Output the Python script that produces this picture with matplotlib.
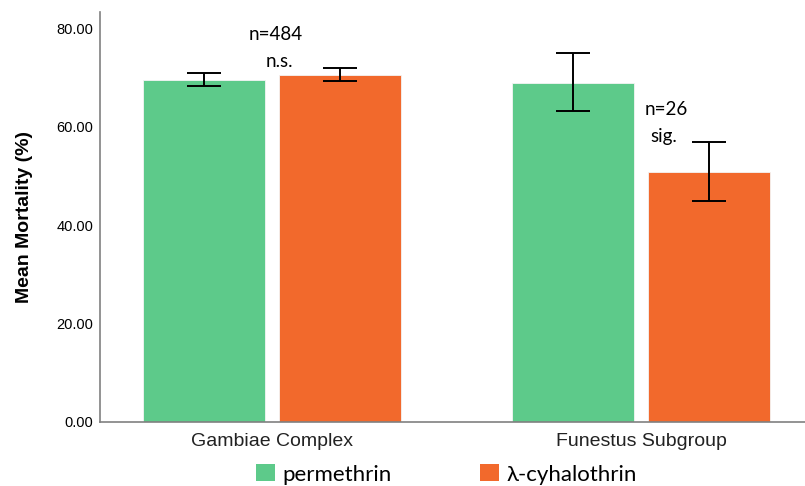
import matplotlib.pyplot as plt
from matplotlib.patches import Patch
import numpy as np

# data
groups = ["Gambiae Complex", "Funestus Subgroup"]
insecticides = ["permethrin", "λ-cyhalothrin"]
perm_mean = [69.5, 68.9]
perm_lo = [68.2, 63.2]
perm_hi = [71.0, 74.9]
lamb_mean = [70.6, 50.7]
lamb_lo = [69.3, 44.8]
lamb_hi = [71.85, 56.8]
yticks = [0, 20, 40, 60, 80]

GREEN = "#5DCA8A"
ORANGE = "#F2692C"
ANNOT_FONT = "Lato"

fig = plt.figure(figsize=(8.05, 4.86), dpi=100)
ax = fig.add_axes([100 / 805, 64.4 / 486, 705 / 805, 409.9 / 486])

x = np.arange(len(groups))
width = 0.331
offset = 0.184

for off, mean, lo, hi, color in [
    (-offset, perm_mean, perm_lo, perm_hi, GREEN),
    (offset, lamb_mean, lamb_lo, lamb_hi, ORANGE),
]:
    mean = np.array(mean)
    yerr = np.vstack([mean - np.array(lo), np.array(hi) - mean])
    ax.bar(x + off, mean, width, color=color, edgecolor="#f4f4f4", linewidth=0.6, zorder=2)
    ax.errorbar(
        x + off, mean, yerr=yerr, fmt="none", ecolor="black",
        elinewidth=1.4, capsize=12, capthick=1.4, zorder=3,
    )

ax.set_xlim(-0.466, 1.444)
ax.set_ylim(0, 83.4)
ax.set_yticks(yticks)
ax.set_yticklabels([f"{v:.2f}" for v in yticks], fontfamily="Liberation Sans", fontsize=10.5)
ax.set_xticks(x)
ax.set_xticklabels(groups, fontfamily="Liberation Sans", fontsize=14, color="#222222")
ax.tick_params(axis="y", length=0, pad=5)
ax.tick_params(axis="x", length=0, pad=8)
ax.set_ylabel("Mean Mortality (%)", fontfamily="Liberation Sans", fontweight="bold",
              fontsize=14, labelpad=17)

for side in ["top", "right"]:
    ax.spines[side].set_visible(False)
for side in ["left", "bottom"]:
    ax.spines[side].set_color("#808080")
    ax.spines[side].set_linewidth(1.2)

# significance notes
ax.text(0.01, 78.8, "n=484", ha="center", va="center", fontfamily=ANNOT_FONT, fontsize=13.5)
ax.text(0.02, 73.3, "n.s.", ha="center", va="center", fontfamily=ANNOT_FONT, fontsize=13.5)
ax.text(1.068, 63.4, "n=26", ha="center", va="center", fontfamily=ANNOT_FONT, fontsize=13.5)
ax.text(1.062, 58.0, "sig.", ha="center", va="center", fontfamily=ANNOT_FONT, fontsize=13.5)

handles = [Patch(facecolor=GREEN), Patch(facecolor=ORANGE)]
fig.legend(
    handles, insecticides, loc="center left",
    bbox_to_anchor=(256 / 805, 1 - 474.5 / 486), ncol=2, frameon=False,
    prop={"family": ANNOT_FONT, "size": 16},
    handlelength=0.85, handleheight=0.77, handletextpad=0.32,
    columnspacing=4.0, borderpad=0, borderaxespad=0,
)

fig.savefig("out.png", dpi=100)
